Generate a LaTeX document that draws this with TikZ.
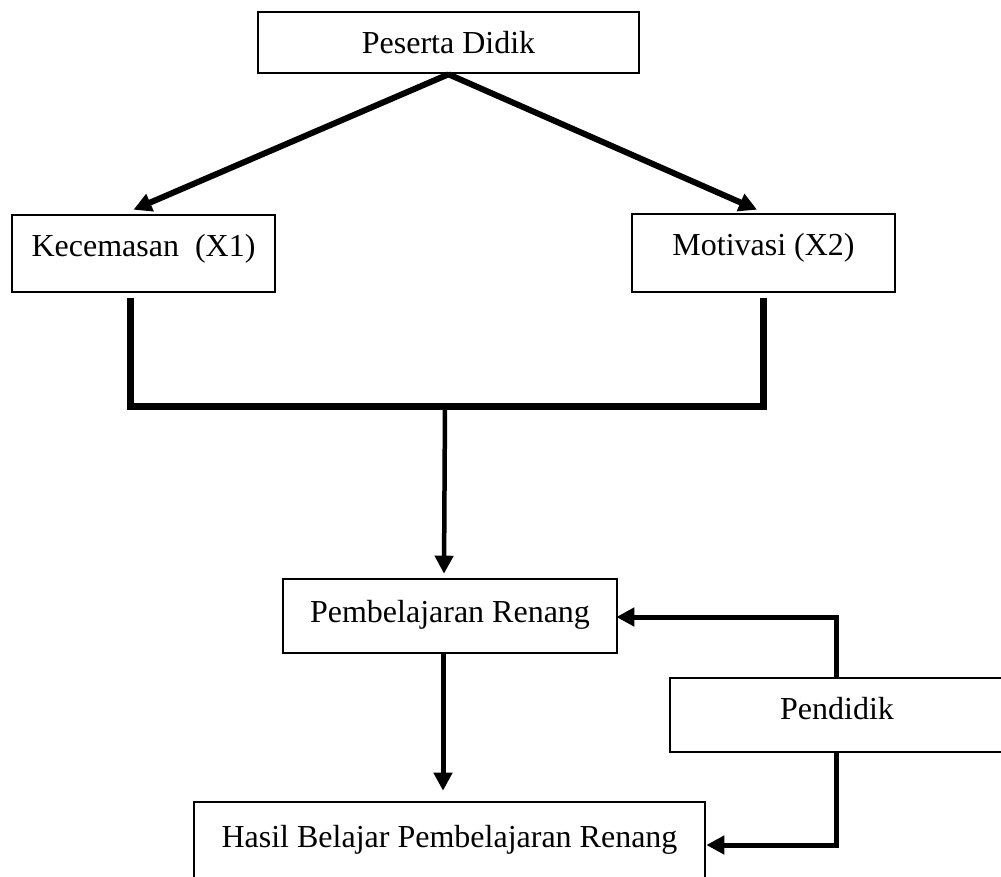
\documentclass[tikz,border=0pt]{standalone}
\usepackage{fontspec}
\setmainfont{Liberation Serif}
\usetikzlibrary{arrows.meta}
\begin{document}
\begin{tikzpicture}[x=1pt,y=-1pt,
  box/.style={draw=black, line width=2.6pt, inner sep=0pt, text depth=0pt,
    font=\fontsize{32}{38}\selectfont},
  conn/.style={draw=black, line width=5pt, line join=miter},
  tip/.style={-{Triangle[length=18pt,width=18pt]}}]
\useasboundingbox (0,0) rectangle (1001,876);
\clip (0,0) rectangle (1001,876);
\node[box, minimum width=381pt, minimum height=61pt, text height=21.6pt] (pes) at (448.5,42.5) {Peserta Didik};
\node[box, minimum width=263pt, minimum height=77pt, text height=5pt] (kec) at (143.5,253.5) {Kecemasan~~(X1)};
\node[box, minimum width=263pt, minimum height=78pt, text height=5pt] (mot) at (763.5,253) {Motivasi (X2)};
\node[box, minimum width=334pt, minimum height=74pt, text height=12pt] (pemb) at (450,616) {Pembelajaran Renang};
\node[box, minimum width=334pt, minimum height=74pt, text height=8pt] (pend) at (837,715) {Pendidik};
\node[box, minimum width=511pt, minimum height=78pt, text height=12pt] (hasil) at (449.5,841) {Hasil Belajar Pembelajaran Renang};
\coordinate (jm) at (445,406);
% diagonal arrows
\draw[conn, line width=6pt, tip] (pes.south) -- ([xshift=-10pt,yshift=4pt]kec.north);
\draw[conn, line width=6pt, tip] (pes.south) -- ([xshift=-6.5pt,yshift=3pt]mot.north);
% bracket
\draw[conn, line width=7pt] ([xshift=-13.5pt,yshift=-5pt]kec.south) |- (jm) -| ([xshift=-0.5pt,yshift=-5pt]mot.south);
% to pembelajaran
\draw[conn, line width=4.5pt, tip] (jm) -- ([xshift=-6pt,yshift=4pt]pemb.north);
% to hasil
\draw[conn, tip] ([xshift=-7pt]pemb.south) -- ([xshift=-6.5pt,yshift=10pt]hasil.north);
% feedback from pendidik
\draw[conn, tip] ([xshift=-1pt]pend.north) |- ([xshift=-2pt,yshift=-1pt]pemb.east);
\draw[conn, tip] ([xshift=-1pt]pend.south) |- ([yshift=-4pt]hasil.east);
\end{tikzpicture}
\end{document}
